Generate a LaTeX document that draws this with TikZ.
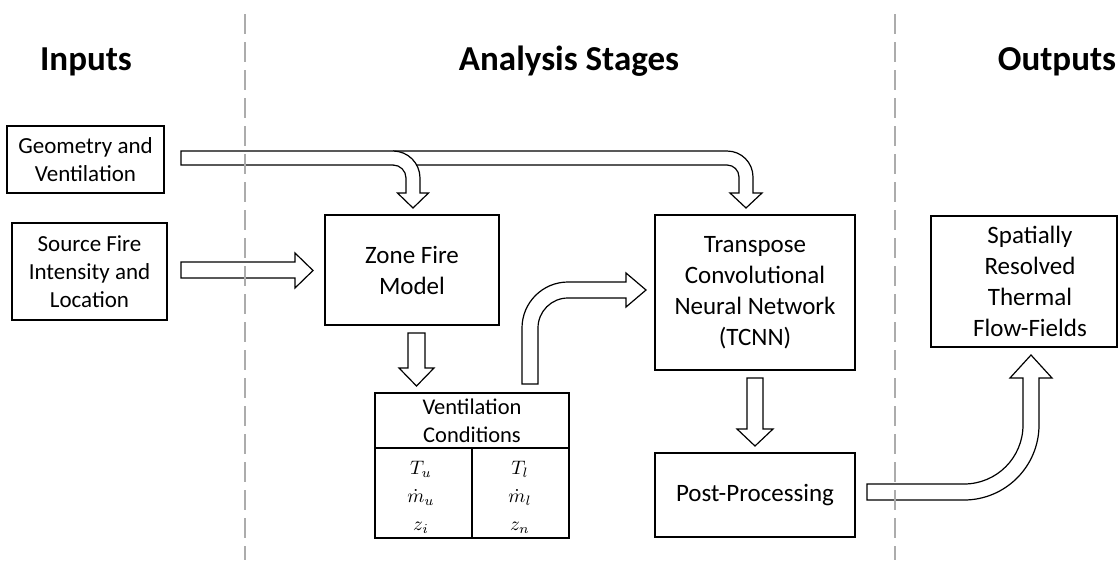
\documentclass[tikz,border=0pt]{standalone}
\usepackage{fontspec}
\setmainfont{Carlito}
\tikzset{
  box/.style={draw, line width=1.6pt, align=center, inner sep=0pt},
  inbox/.style={box, font=\fontsize{23}{28}\selectfont},
  stagebox/.style={box, font=\fontsize{25}{31}\selectfont},
  stagetext/.style={align=center, inner sep=0pt, font=\fontsize{25}{31}\selectfont},
  headbox/.style={box, font=\fontsize{22.5}{28}\selectfont},
  cellbox/.style={box},
  mathtext/.style={align=center, inner sep=0pt, scale=1.95, transform shape, font=\fontsize{10}{14.4}\selectfont},
  title/.style={font=\fontsize{35}{42}\selectfont\bfseries, anchor=base},
  blockarrow/.style={draw, fill=white, line width=1.2pt, line join=miter},
  divider/.style={draw=gray!65, line width=1.8pt, dash pattern=on 20pt off 8pt}
}
\begin{document}
\begin{tikzpicture}[x=1pt,y=-1pt]
\useasboundingbox (0,0) rectangle (1118,560);

% titles
\node[title] (tin) at (86,70) {Inputs};
\node[title] (tan) at (569,70) {Analysis Stages};
\node[title] (tout) at (1057,70) {Outputs};

% boxes
\node[inbox, minimum width=157pt, minimum height=67pt] (geo) at (85.5,159.5) {Geometry and\\Ventilation};
\node[inbox, minimum width=155pt, minimum height=97pt] (src) at (89.5,271.5) {Source Fire\\Intensity and\\Location};
\node[stagebox, minimum width=174pt, minimum height=110pt] (zone) at (412,270) {Zone Fire\\Model};
\node[stagebox, minimum width=200pt, minimum height=155pt] (tcnn) at (755,292.5) {Transpose\\Convolutional\\Neural Network\\(TCNN)};
\node[stagebox, minimum width=200pt, minimum height=84pt] (post) at (755,495) {Post-Processing};
\node[box, minimum width=186pt, minimum height=131pt] (out) at (1024,281.5) {};
\node[stagetext] (outtxt) at (1030,281.5) {Spatially\\Resolved\\Thermal\\Flow-Fields};

% ventilation table
\node[headbox, minimum width=194pt, minimum height=55pt] (vhead) at (472,420.5) {Ventilation\\Conditions};
\node[cellbox, minimum width=97pt, minimum height=90pt] (vleft) at (423.5,493) {};
\node[cellbox, minimum width=97pt, minimum height=90pt] (vright) at (520.5,493) {};
\node[mathtext] (vlefttxt) at (421,497.5) {$T_u$\\$\dot{m}_u$\\$z_i$};
\node[mathtext] (vrighttxt) at (520,497.5) {$T_l$\\$\dot{m}_l$\\$z_n$};

% geometry -> TCNN (long branch)
\draw[blockarrow] (181,165) -- (181,151) -- (727,151)
  .. controls (741.4,151) and (753,162.6) .. (753,177) -- (753,193) -- (762,193)
  -- (746,208) -- (730,193) -- (739,193) -- (739,177)
  .. controls (739,170.4) and (733.6,165) .. (727,165) -- cycle;
% geometry -> zone (short branch)
\fill[white] (393,151) .. controls (407.9,151) and (420,163.1) .. (420,178) -- (420,193)
  -- (428.5,193) -- (413,208) -- (397.5,193) -- (406,193) -- (406,178)
  .. controls (406,170.8) and (400.2,165) .. (393,165) -- cycle;
\draw[line width=1.2pt, line join=miter] (393,151) .. controls (407.9,151) and (420,163.1) .. (420,178) -- (420,193)
  -- (428.5,193) -- (413,208) -- (397.5,193) -- (406,193) -- (406,178)
  .. controls (406,170.8) and (400.2,165) .. (393,165);

% source -> zone
\draw[blockarrow] (181,262) -- (295,262) -- (295,253) -- (313,270.5) -- (295,288) -- (295,278) -- (181,278) -- cycle;

% zone -> table
\draw[blockarrow] (408,333) -- (425,333) -- (425,368) -- (434,368) -- (416.5,386) -- (399,368) -- (408,368) -- cycle;

% table -> TCNN
\draw[blockarrow] (522,384) -- (522,328) .. controls (522,302.6) and (542.6,282) .. (568,282)
  -- (626,282) -- (626,273) -- (646,290) -- (626,307) -- (626,298) -- (568,298)
  .. controls (551.4,298) and (538,311.4) .. (538,328) -- (538,384) -- cycle;

% TCNN -> post
\draw[blockarrow] (747,378) -- (763,378) -- (763,429) -- (773,429) -- (755,446) -- (737,429) -- (747,429) -- cycle;

% post -> outputs
\draw[blockarrow] (867,484) -- (964,484) .. controls (996.6,484) and (1023,457.6) .. (1023,425)
  -- (1023,378) -- (1010,378) -- (1031,355) -- (1052,378) -- (1039,378) -- (1039,425)
  .. controls (1039,466.4) and (1005.4,500) .. (964,500) -- (867,500) -- cycle;

% dashed dividers
\coordinate (d1t) at (245,14);
\coordinate (d1b) at (245,560);
\coordinate (d2t) at (895,14);
\coordinate (d2b) at (895,560);
\draw[divider] (d1t) -- (d1b);
\draw[divider] (d2t) -- (d2b);
\end{tikzpicture}
\end{document}
